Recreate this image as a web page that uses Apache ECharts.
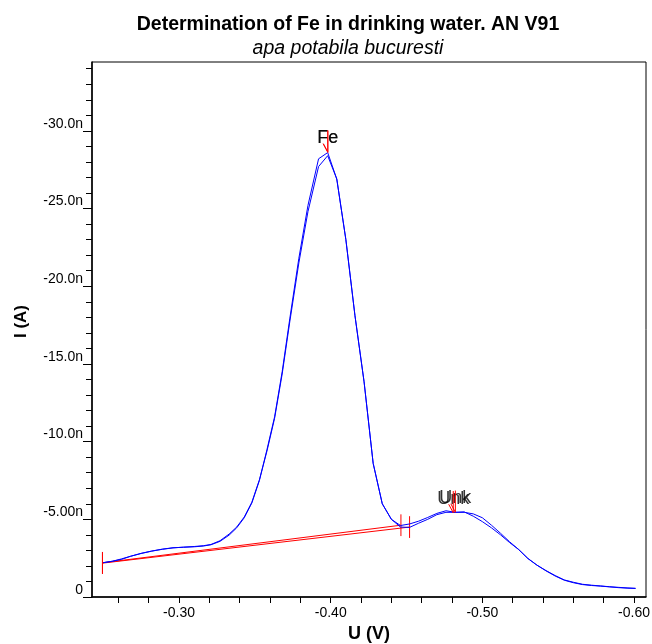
<!DOCTYPE html>
<html>
<head>
<meta charset="utf-8">
<script src="https://cdn.jsdelivr.net/npm/echarts@6/dist/echarts.min.js"></script>
<style>
  html, body { margin: 0; padding: 0; background: #fff; }
  #main { width: 652px; height: 644px; }
</style>
</head>
<body>
<div id="main"></div>
<script>
// potential (V) and current (nA), two scans
const potential = [-0.250, -0.256, -0.262, -0.268, -0.275, -0.282, -0.289, -0.296, -0.303, -0.310,
  -0.316, -0.321, -0.327, -0.333, -0.338, -0.343, -0.348, -0.353, -0.358, -0.363,
  -0.368, -0.373, -0.379, -0.385, -0.392, -0.398, -0.404, -0.410, -0.416, -0.422,
  -0.428, -0.434, -0.440, -0.446, -0.452, -0.458, -0.464, -0.470, -0.476, -0.482,
  -0.488, -0.494, -0.500, -0.506, -0.512, -0.518, -0.524, -0.530, -0.536, -0.542,
  -0.548, -0.554, -0.560, -0.566, -0.572, -0.578, -0.584, -0.590, -0.596, -0.601];
const scan1 = [-2.21, -2.30, -2.42, -2.62, -2.81, -2.96, -3.08, -3.17, -3.20, -3.23,
  -3.28, -3.36, -3.58, -3.98, -4.45, -5.10, -6.05, -7.50, -9.50, -11.60,
  -14.50, -17.90, -21.80, -25.20, -28.20, -28.60, -26.90, -23.00, -18.10, -13.85,
  -8.60, -6.00, -5.00, -4.60, -4.70, -4.88, -5.12, -5.38, -5.55, -5.45,
  -5.45, -5.35, -5.10, -4.62, -4.10, -3.55, -3.05, -2.48, -2.05, -1.68,
  -1.35, -1.08, -0.92, -0.80, -0.74, -0.70, -0.65, -0.60, -0.57, -0.55];
const scan2 = [-2.21, -2.30, -2.45, -2.62, -2.80, -2.95, -3.07, -3.16, -3.21, -3.25,
  -3.30, -3.38, -3.62, -4.05, -4.50, -5.15, -6.10, -7.55, -9.40, -11.50,
  -14.35, -17.70, -21.50, -24.80, -27.70, -28.40, -26.90, -23.00, -18.10, -13.85,
  -8.60, -6.00, -5.00, -4.50, -4.48, -4.75, -5.00, -5.30, -5.45, -5.45,
  -5.48, -5.20, -4.85, -4.45, -4.00, -3.50, -3.05, -2.48, -2.05, -1.70,
  -1.38, -1.10, -0.95, -0.82, -0.76, -0.71, -0.66, -0.62, -0.58, -0.56];

// baselines (one per scan)
const baseStartU = [-0.2495, -0.2495];
const baseStartI = [-2.20, -2.18];
const baseEndU = [-0.4463, -0.4520];
const baseEndI = [-4.62, -4.50];

// peak marks
const peakNames = ['Fe', 'Fe', 'Unk', 'Unk'];
const peakU = [-0.3981, -0.3981, -0.4808, -0.4822];
const peakI = [-28.62, -28.62, -5.42, -5.45];

// axes
const xTicks = [-0.26, -0.28, -0.30, -0.32, -0.34, -0.36, -0.38, -0.40, -0.42, -0.44,
  -0.46, -0.48, -0.50, -0.52, -0.54, -0.56, -0.58, -0.60];
const xLabels = [-0.30, -0.40, -0.50, -0.60];
const yMinorTicks = [];
for (let i = 0; i >= -34; i--) yMinorTicks.push(i);
const yLabels = [0, -5, -10, -15, -20, -25, -30];
const yLabelText = ['0', '-5.00n', '-10.0n', '-15.0n', '-20.0n', '-25.0n', '-30.0n'];

const chart = echarts.init(document.getElementById('main'));

const RED = '#ff0000';
const BLUE = '#0000ff';
const FONT = 'Liberation Sans, Arial, sans-serif';

const scanSeries = [scan1, scan2].map((s, k) => ({
  name: 'scan' + (k + 1),
  type: 'line',
  showSymbol: false,
  symbol: 'none',
  animation: false,
  lineStyle: { color: BLUE, width: 1 },
  data: potential.map((u, i) => [u, s[i]])
}));

const redLine = (data) => ({
  type: 'line',
  showSymbol: false,
  symbol: 'none',
  animation: false,
  silent: true,
  lineStyle: { color: RED, width: 1 },
  data: data
});

const baseSeries = [];
for (let k = 0; k < baseStartU.length; k++) {
  baseSeries.push(redLine([[baseStartU[k], baseStartI[k]], [baseEndU[k], baseEndI[k]]]));
  baseSeries.push(redLine([[baseStartU[k], baseStartI[k] - 0.7], [baseStartU[k], baseStartI[k] + 0.7]]));
  baseSeries.push(redLine([[baseEndU[k], baseEndI[k] - 0.7], [baseEndU[k], baseEndI[k] + 0.7]]));
}

const peakSeries = [];
for (let k = 0; k < peakU.length; k++) {
  peakSeries.push(redLine([[peakU[k], peakI[k]], [peakU[k], peakI[k] - 1.4]]));
  peakSeries.push(redLine([[peakU[k] + 0.003, peakI[k] - 0.55], [peakU[k], peakI[k]]]));
}

const labelSeries = {
  type: 'scatter',
  symbolSize: 0,
  animation: false,
  silent: true,
  label: {
    show: true,
    position: 'top',
    distance: 5,
    color: '#000',
    fontFamily: FONT,
    fontSize: 18,
    formatter: (p) => p.data.name
  },
  data: peakU.map((u, k) => ({ name: peakNames[k], value: [u, peakI[k]] }))
};

const option = {
  backgroundColor: '#fff',
  animation: false,
  title: {
    text: 'Determination of Fe in drinking water. AN V91',
    subtext: 'apa potabila bucuresti',
    left: 343,
    top: 10,
    textAlign: 'center',
    itemGap: 4,
    textStyle: { fontFamily: FONT, fontSize: 19.5, fontWeight: 'bold', color: '#000' },
    subtextStyle: { fontFamily: FONT, fontSize: 19.5, fontStyle: 'italic', color: '#000' }
  },
  grid: {
    left: 92, right: 6, top: 62, bottom: 47,
    show: true, borderColor: '#000', borderWidth: 1,
    outerBoundsMode: 'none'
  },
  xAxis: {
    type: 'value',
    inverse: true,
    min: -0.6079,
    max: -0.2426,
    name: 'U (V)',
    nameLocation: 'middle',
    nameGap: 26,
    nameTextStyle: { fontFamily: FONT, fontSize: 18, fontWeight: 'bold', color: '#000' },
    axisLine: { lineStyle: { color: '#000', width: 1.5 } },
    axisTick: { show: true, inside: false, length: 6, customValues: xTicks, lineStyle: { color: '#000' } },
    axisLabel: {
      customValues: xLabels, margin: 9, color: '#000', fontFamily: FONT, fontSize: 14,
      formatter: (v) => v.toFixed(2)
    },
    splitLine: { show: false }
  },
  yAxis: [{
    type: 'value',
    inverse: true,
    min: -34.43,
    max: 0,
    name: 'I (A)',
    nameLocation: 'middle',
    nameGap: 62,
    nameTextStyle: { fontFamily: FONT, fontSize: 17, fontWeight: 'bold', color: '#000', padding: [0, 0, 0, 16] },
    axisLine: { show: true, lineStyle: { color: '#000', width: 1.5 } },
    axisTick: { show: true, inside: false, length: 9, customValues: yLabels, lineStyle: { color: '#000' } },
    axisLabel: {
      customValues: yLabels, margin: 9, color: '#000', fontFamily: FONT, fontSize: 14,
      verticalAlign: 'bottom', lineHeight: 14,
      formatter: (v) => yLabelText[yLabels.indexOf(v)]
    },
    splitLine: { show: false }
  }, {
    type: 'value',
    inverse: true,
    min: -34.43,
    max: 0,
    position: 'left',
    axisLine: { show: false },
    axisTick: { show: true, inside: false, length: 6, customValues: yMinorTicks, lineStyle: { color: '#000' } },
    axisLabel: { show: false },
    splitLine: { show: false }
  }],
  series: [...baseSeries, ...scanSeries, ...peakSeries, labelSeries]
};

chart.setOption(option);
</script>
</body>
</html>
